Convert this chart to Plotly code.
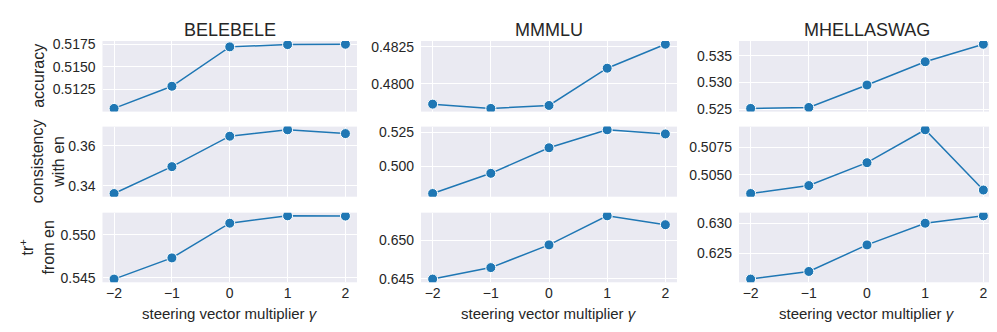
import plotly.graph_objects as go
from plotly.subplots import make_subplots

# steering vector multiplier values
multipliers = [-2, -1, 0, 1, 2]

datasets = ["BELEBELE", "MMMLU", "MHELLASWAG"]
metrics = ["accuracy", "consistency<br>with en", "tr<sup>+</sup><br>from en"]

belebele_acc = [0.51040, 0.51285, 0.51721, 0.51746, 0.51750]
mmmlu_acc = [0.47863, 0.47834, 0.47854, 0.48106, 0.48268]
mhellaswag_acc = [0.52518, 0.52536, 0.52954, 0.53388, 0.53714]

belebele_cons = [0.33616, 0.34959, 0.36480, 0.36800, 0.36610]
mmmlu_cons = [0.48018, 0.49489, 0.51352, 0.52661, 0.52360]
mhellaswag_cons = [0.50327, 0.50400, 0.50610, 0.50912, 0.50359]

belebele_tr = [0.54484, 0.54731, 0.55135, 0.55221, 0.55218]
mmmlu_tr = [0.64496, 0.64646, 0.64942, 0.65321, 0.65205]
mhellaswag_tr = [0.62078, 0.62204, 0.62642, 0.63000, 0.63122]

grid = [
    [belebele_acc, mmmlu_acc, mhellaswag_acc],
    [belebele_cons, mmmlu_cons, mhellaswag_cons],
    [belebele_tr, mmmlu_tr, mhellaswag_tr],
]

# tick spacing / format per panel
dticks = [
    [0.0025, 0.0025, 0.005],
    [0.02, 0.025, 0.0025],
    [0.005, 0.005, 0.005],
]
tformats = [
    [".4f", ".4f", ".3f"],
    [".2f", ".3f", ".4f"],
    [".3f", ".3f", ".3f"],
]

W, H = 997, 332
FONT = "Liberation Sans, Arial, sans-serif"
TXT = "#262626"
BLUE = "#1f77b4"

# panel boxes in pixels
col_px = [(94.5, 349), (413, 669), (731, 987)]
row_px = [(29, 102), (117.5, 190), (206.5, 278.5)]

fig = make_subplots(rows=3, cols=3)

for r in range(3):
    for c in range(3):
        vals = grid[r][c]
        fig.add_trace(go.Scatter(
            x=multipliers, y=vals,
            mode="lines+markers",
            line=dict(color=BLUE, width=1.5),
            marker=dict(size=10, color=BLUE, line=dict(color="white", width=1)),
            showlegend=False,
            hoverinfo="skip",
        ), row=r + 1, col=c + 1)

        lo, hi = min(vals), max(vals)
        pad = (hi - lo) * 0.05
        x0, x1 = col_px[c]
        y0, y1 = row_px[r]
        fig.update_xaxes(
            domain=[x0 / W, x1 / W], range=[-2.2, 2.2],
            tickvals=multipliers, showticklabels=(r == 2),
            showgrid=True, gridcolor="white", gridwidth=1,
            zeroline=False, showline=False, ticks="",
            ticklabelstandoff=1,
            tickfont=dict(size=14, color=TXT, family=FONT),
            row=r + 1, col=c + 1,
        )
        fig.update_yaxes(
            domain=[1 - y1 / H, 1 - y0 / H], range=[lo - pad, hi + pad],
            tick0=0, dtick=dticks[r][c], tickformat=tformats[r][c],
            showgrid=True, gridcolor="white", gridwidth=1,
            zeroline=False, showline=False, ticks="",
            ticklabelstandoff=6,
            tickfont=dict(size=14, color=TXT, family=FONT),
            row=r + 1, col=c + 1,
        )

# column titles and x labels
for c, name in enumerate(datasets):
    x0, x1 = col_px[c]
    fig.add_annotation(text=name, x=(x0 + x1) / 2 / W, y=1 - 17.5 / H,
                       xref="paper", yref="paper", showarrow=False,
                       xanchor="center", yanchor="middle",
                       font=dict(size=18, color=TXT, family=FONT))
    fig.add_annotation(text="steering vector multiplier <i>γ</i>",
                       x=(x0 + x1) / 2 / W, y=1 - 311 / H,
                       xref="paper", yref="paper", showarrow=False,
                       xanchor="center", yanchor="middle",
                       font=dict(size=15, color=TXT, family=FONT))

# row labels
label_x = [30.5, 39.5, 29]
for r, lab in enumerate(metrics):
    y0, y1 = row_px[r]
    fig.add_annotation(text=lab, x=label_x[r] / W, y=1 - (y0 + y1) / 2 / H,
                       xref="paper", yref="paper", showarrow=False,
                       textangle=-90, xanchor="center", yanchor="middle",
                       font=dict(size=16, color=TXT, family=FONT))

fig.update_layout(
    width=W, height=H,
    margin=dict(l=0, r=0, t=0, b=0),
    paper_bgcolor="white",
    plot_bgcolor="#EAEAF2",
    font=dict(family=FONT, color=TXT),
)

fig.write_html("out.html")
